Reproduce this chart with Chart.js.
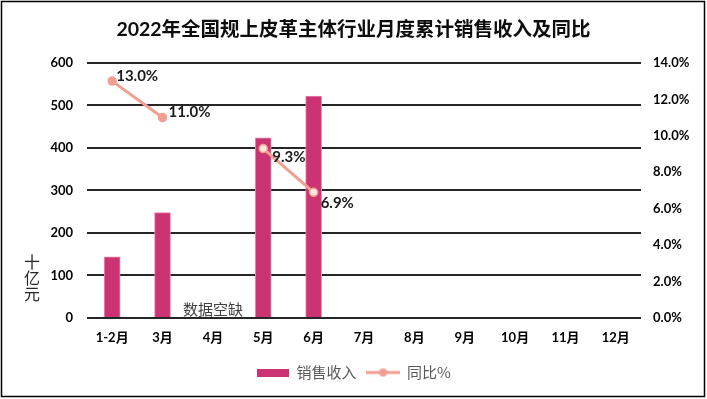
<!DOCTYPE html>
<html><head><meta charset="utf-8">
<script src="https://cdn.jsdelivr.net/npm/chart.js@4"></script>
<style>html,body{margin:0;padding:0;background:#fff;overflow:hidden}#wrap{width:707px;height:399px;position:relative}</style>
</head><body><div id="wrap"><canvas id="c" width="707" height="399"></canvas></div>
<script>
const categories = ['1-2月','3月','4月','5月','6月','7月','8月','9月','10月','11月','12月'];
const salesRevenue = [144, 248, null, 424, 522, null, null, null, null, null, null];
const yoyPercent = [13.0, 11.0, null, 9.3, 6.9, null, null, null, null, null, null];
const seriesNames = ['销售收入', '同比%'];
const leftAxisRange = [0, 600, 100];
const rightAxisRange = [0, 14, 2];
const titleText = '2022年全国规上皮革主体行业月度累计销售收入及同比';
const unitChars = ['十', '亿', '元'];
const gapNote = '数据空缺';
const gapIndex = 2;

const BAR = '#cc3373', LINE = '#f19f91';
const FONT = 'Lato, "Noto Sans CJK SC", sans-serif';
const CJK = '"Noto Sans CJK SC", sans-serif';

function barSwatch(){const c=document.createElement('canvas');c.width=32;c.height=8;const x=c.getContext('2d');x.fillStyle=BAR;x.fillRect(0,0,32,8);return c;}
function lineSwatch(){const c=document.createElement('canvas');c.width=34;c.height=10;const x=c.getContext('2d');x.strokeStyle=LINE;x.lineWidth=3;x.beginPath();x.moveTo(0,5);x.lineTo(34,5);x.stroke();x.fillStyle=LINE;x.beginPath();x.arc(17,5,4,0,Math.PI*2);x.fill();return c;}
const swatches=[barSwatch(), lineSwatch()];

const labelOffsets = {0:[4,-5],1:[6,-5],3:[9,9],4:[7,11]};

const framePlugin = {id:'frame', beforeDraw(chart){const c=chart.ctx;c.save();c.fillStyle='#fff';c.fillRect(0,0,chart.width,chart.height);c.restore();},
  afterDraw(chart){const c=chart.ctx;c.save();c.strokeStyle='#000';c.lineWidth=1.5;c.strokeRect(1.5,1.5,chart.width-4,chart.height-4);c.restore();}};
const unitPlugin = {id:'unit', afterDraw(chart){const c=chart.ctx;c.save();c.font='16px '+CJK;c.fillStyle='#262626';c.textAlign='center';c.textBaseline='middle';unitChars.forEach((ch,i)=>c.fillText(ch,32,262+i*16));c.restore();}};
const gapPlugin = {id:'gap', afterDatasetsDraw(chart){const c=chart.ctx;const x=chart.scales.x.getPixelForValue(gapIndex);const y=chart.scales.y.getPixelForValue(0);c.save();c.font='15px '+CJK;c.fillStyle='#404040';c.textAlign='center';c.textBaseline='middle';c.fillText(gapNote,x,y-9);c.restore();}};
const labelPlugin = {id:'vals', afterDatasetsDraw(chart){const c=chart.ctx;const meta=chart.getDatasetMeta(1);c.save();c.font='bold 15px '+FONT;c.fillStyle='#1a1a1a';c.textAlign='left';c.textBaseline='middle';
  meta.data.forEach((p,i)=>{const v=yoyPercent[i];if(v==null)return;const o=labelOffsets[i]||[6,0];c.fillText(v.toFixed(1)+'%',p.x+o[0],p.y+o[1]);});c.restore();}};

new Chart(document.getElementById('c'), {
  data:{labels:categories, datasets:[
    {type:'bar', label:seriesNames[0], data:salesRevenue, yAxisID:'y', backgroundColor:BAR, borderColor:'#e58aab', borderWidth:1, barThickness:16, order:2},
    {type:'line', label:seriesNames[1], data:yoyPercent, yAxisID:'y1', borderColor:LINE, borderWidth:3, spanGaps:false,
     pointRadius:4, pointBorderWidth:1.5, pointBorderColor:LINE,
     pointBackgroundColor:[LINE,LINE,LINE,'#fde6df','#fde6df',LINE,LINE,LINE,LINE,LINE,LINE], order:1}
  ]},
  options:{responsive:false, devicePixelRatio:1, animation:false,
    layout:{padding:{left:0,right:0,top:0,bottom:9}},
    plugins:{
      title:{display:true,text:titleText,color:'#0d0d0d',font:{family:FONT,size:19.5,weight:'bold'},padding:{top:18,bottom:21.5}},
      legend:{position:'bottom', labels:{usePointStyle:true, pointStyleWidth:33, padding:10, color:'#595959', font:{family:CJK,size:15},
        generateLabels(chart){return chart.data.datasets.map((ds,i)=>({text:ds.label,pointStyle:swatches[i],fillStyle:'transparent',strokeStyle:'transparent',lineWidth:0,hidden:false,datasetIndex:i,fontColor:'#595959'}));}}},
      tooltip:{enabled:false}
    },
    scales:{
      x:{grid:{display:false,drawTicks:false}, border:{display:false},
        ticks:{color:'#000',padding:12,font:{family:FONT,size:13,weight:'bold'},maxRotation:0,autoSkip:false},
        afterFit(s){s.height=37;}},
      y:{position:'left', min:leftAxisRange[0], max:leftAxisRange[1],
        ticks:{stepSize:leftAxisRange[2],color:'#000',padding:14,font:{family:FONT,size:13,weight:'bold'}},
        grid:{color:'#262626',lineWidth:2,drawTicks:false}, border:{display:false},
        afterFit(s){s.width=87;}},
      y1:{position:'right', min:rightAxisRange[0], max:rightAxisRange[1],
        ticks:{stepSize:rightAxisRange[2],color:'#000',padding:12,font:{family:FONT,size:13,weight:'bold'},callback:v=>Number(v).toFixed(1)+'%'},
        grid:{display:false,drawTicks:false}, border:{display:false},
        afterFit(s){s.width=66;}}
    }
  },
  plugins:[framePlugin, unitPlugin, gapPlugin, labelPlugin]
});
</script></body></html>
